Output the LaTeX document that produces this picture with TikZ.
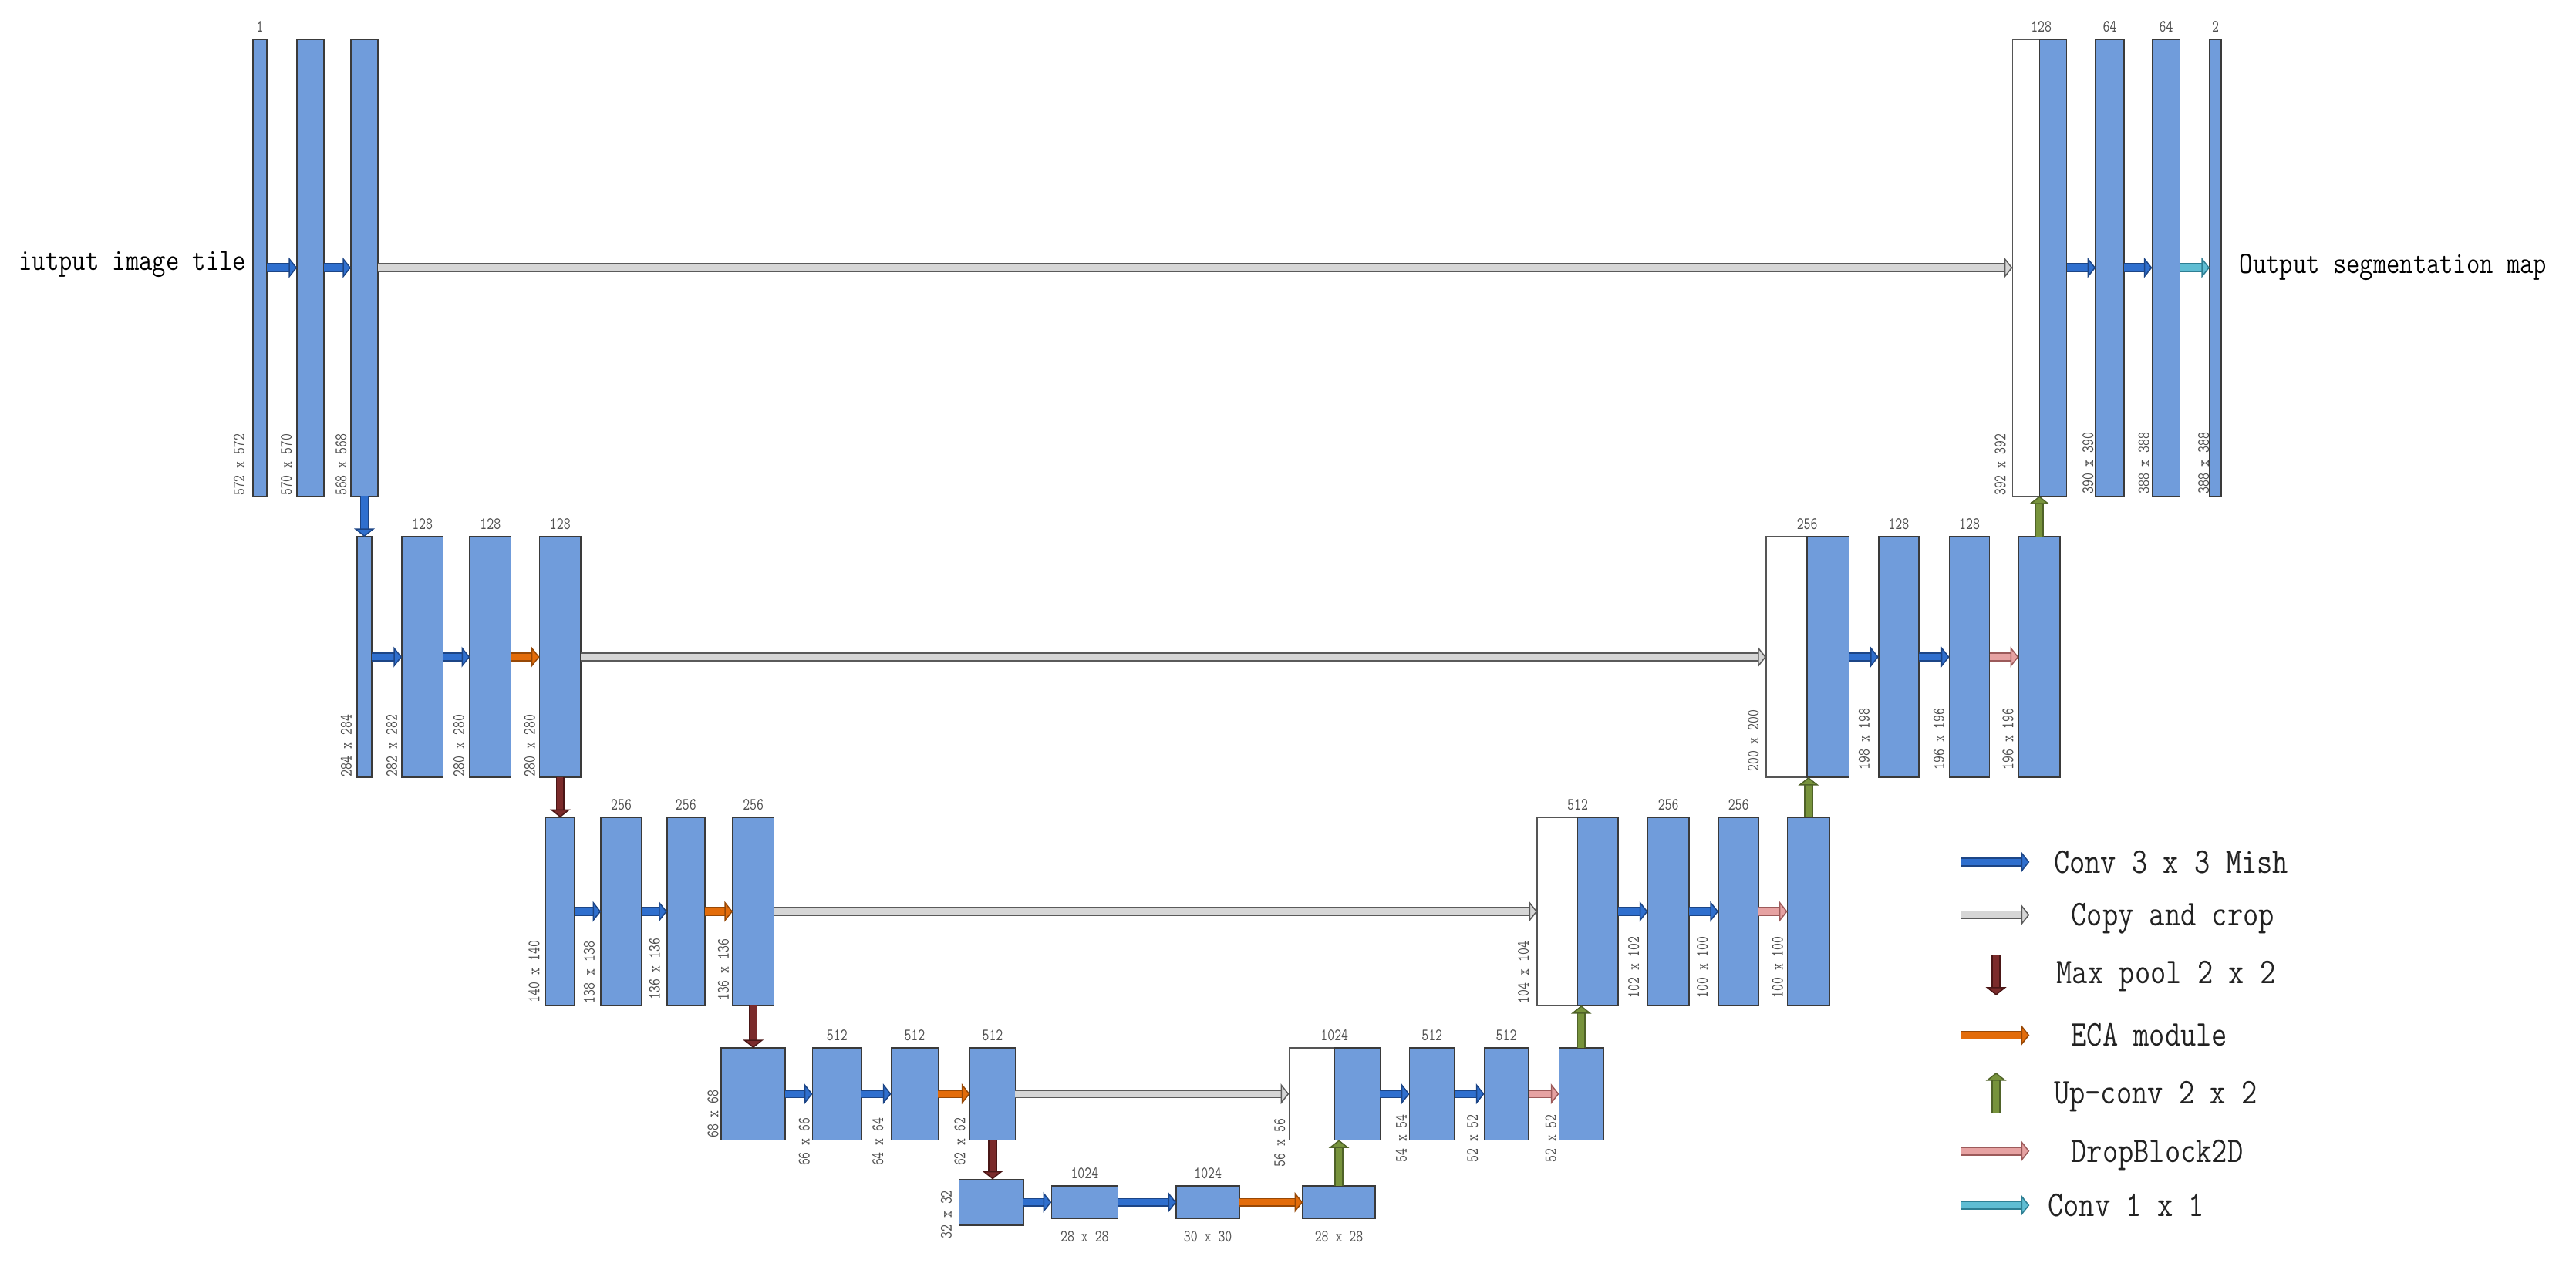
\documentclass[tikz,border=0pt]{standalone}
\usepackage{graphicx}
\usetikzlibrary{arrows.meta}
\definecolor{boxblue}{HTML}{709CDB}
\definecolor{boxline}{HTML}{3A3A3A}
\definecolor{wline}{HTML}{555555}
\definecolor{convF}{HTML}{2F6FCE}
\definecolor{convD}{HTML}{1C4586}
\definecolor{copyF}{HTML}{D6D6D6}
\definecolor{copyD}{HTML}{5A5A5A}
\definecolor{poolF}{HTML}{7B2B2B}
\definecolor{poolD}{HTML}{4A1616}
\definecolor{ecaF}{HTML}{E36C0A}
\definecolor{ecaD}{HTML}{974806}
\definecolor{upF}{HTML}{77933C}
\definecolor{upD}{HTML}{4F6228}
\definecolor{dropF}{HTML}{E6A2A2}
\definecolor{dropD}{HTML}{9C5A5A}
\definecolor{cF}{HTML}{5FBDD3}
\definecolor{cD}{HTML}{2E7F93}
\definecolor{lbl}{HTML}{505050}
\definecolor{legtext}{HTML}{222222}
\newcommand{\dimtxt}[1]{\scalebox{0.76}[1]{#1}}
\newcommand{\legtxt}[1]{\scalebox{0.84}[1]{#1}}
\newcommand{\iotxt}[1]{\scalebox{0.84}[1]{#1}}
\newcommand{\mkbox}[6][bx]{\node[#1, minimum width=#5pt, minimum height=#6pt] (#2) at (#3,#4) {};}
\tikzset{
  bx/.style={draw=boxline, fill=boxblue, line width=0.7pt, inner sep=0pt, outer sep=0pt, anchor=north west},
  wbx/.style={bx, draw=wline, fill=white},
  ch/.style={font=\fontsize{10.5}{12}\selectfont\ttfamily, text=lbl, inner sep=0pt, anchor=base},
  dm/.style={ch, rotate=90, anchor=west},
  leg/.style={font=\fontsize{22}{26}\selectfont\ttfamily, text=legtext, inner sep=0pt, anchor=base west},
  io/.style={font=\fontsize{18.8}{22}\selectfont\ttfamily, text=black, inner sep=0pt},
  barr/.style 2 args={draw=#1, line width=3.8pt,
    -{Triangle[length=5pt,width=12.5pt,line width=0.7pt,color=#2,fill=#1]},
    preaction={draw=#2, line width=5.4pt, arrows=-, shorten >=4.2pt}},
  conv/.style={barr={convF}{convD}},
  cpy/.style={barr={copyF}{copyD}},
  pool/.style={barr={poolF}{poolD}},
  eca/.style={barr={ecaF}{ecaD}},
  upc/.style={barr={upF}{upD}},
  drop/.style={barr={dropF}{dropD}},
  cone/.style={barr={cF}{cD}},
}
\begin{document}
\begin{tikzpicture}[x=1pt,y=-1pt]
\fill[white] (0,0) rectangle (1568,779);
% ---------- level 1
\mkbox{L1a}{154}{24}{8.5}{278}
\mkbox{L1b}{180.8}{24}{16.4}{278}
\mkbox{L1c}{213.6}{24}{16.4}{278}
\mkbox[wbx]{R1w}{1225}{24}{16.5}{278}
\mkbox{R1}{1241.5}{24}{16.5}{278}
\mkbox{R1b}{1275.6}{24}{17.2}{278}
\mkbox{R1c}{1310}{24}{17}{278}
\mkbox{R1d}{1345}{24}{7}{278}
% ---------- level 2
\mkbox{L2a}{217.4}{326.8}{8.9}{146.4}
\mkbox{L2b}{244.6}{326.8}{25}{146.4}
\mkbox{L2c}{286}{326.8}{25}{146.4}
\mkbox{L2d}{328.4}{326.8}{25.2}{146.4}
\mkbox[wbx]{R2w}{1075}{326.8}{25}{146.4}
\mkbox{R2}{1100}{326.8}{25.4}{146.4}
\mkbox{R2b}{1143.5}{326.8}{24.5}{146.4}
\mkbox{R2c}{1186.6}{326.8}{24.4}{146.4}
\mkbox{R2d}{1228.7}{326.8}{25.3}{146.4}
% ---------- level 3
\mkbox{L3a}{331.8}{497.7}{17.8}{114.5}
\mkbox{L3b}{365.8}{497.7}{24.8}{114.5}
\mkbox{L3c}{406}{497.7}{23}{114.5}
\mkbox{L3d}{446}{497.7}{25}{114.5}
\mkbox[wbx]{R3w}{935.7}{497.7}{24.6}{114.5}
\mkbox{R3}{960.3}{497.7}{24.7}{114.5}
\mkbox{R3b}{1003}{497.7}{25}{114.5}
\mkbox{R3c}{1046}{497.7}{24.5}{114.5}
\mkbox{R3d}{1088}{497.7}{25.6}{114.5}
% ---------- level 4
\mkbox{L4a}{439}{638}{39}{56}
\mkbox{L4b}{494.6}{638}{29.8}{56}
\mkbox{L4c}{542.5}{638}{28.5}{56}
\mkbox{L4d}{590.4}{638}{27.6}{56}
\mkbox[wbx]{R4w}{784.6}{638}{27.7}{56}
\mkbox{R4}{812.3}{638}{27.7}{56}
\mkbox{R4b}{858}{638}{27.3}{56}
\mkbox{R4c}{903.5}{638}{26.8}{56}
\mkbox{R4d}{949}{638}{27}{56}
% ---------- level 5
\mkbox{L5a}{583.8}{718}{39.2}{28}
\mkbox{L5b}{640}{722}{40.5}{20}
\mkbox{L5c}{716}{722}{38.5}{20}
\mkbox{L5d}{793}{722}{44}{20}
% ---------- horizontal arrows
\draw[conv] (L1a.east) -- (L1b.west);
\draw[conv] (L1b.east) -- (L1c.west);
\draw[cpy] (L1c.east) -- (R1w.west);
\draw[conv] (R1.east) -- (R1b.west);
\draw[conv] (R1b.east) -- (R1c.west);
\draw[cone] (R1c.east) -- (R1d.west);
\draw[conv] (L2a.east) -- (L2b.west);
\draw[conv] (L2b.east) -- (L2c.west);
\draw[eca] (L2c.east) -- (L2d.west);
\draw[cpy] (L2d.east) -- (R2w.west);
\draw[conv] (R2.east) -- (R2b.west);
\draw[conv] (R2b.east) -- (R2c.west);
\draw[drop] (R2c.east) -- (R2d.west);
\draw[conv] (L3a.east) -- (L3b.west);
\draw[conv] (L3b.east) -- (L3c.west);
\draw[eca] (L3c.east) -- (L3d.west);
\draw[cpy] (L3d.east) -- (R3w.west);
\draw[conv] (R3.east) -- (R3b.west);
\draw[conv] (R3b.east) -- (R3c.west);
\draw[drop] (R3c.east) -- (R3d.west);
\draw[conv] (L4a.east) -- (L4b.west);
\draw[conv] (L4b.east) -- (L4c.west);
\draw[eca] (L4c.east) -- (L4d.west);
\draw[cpy] (L4d.east) -- (R4w.west);
\draw[conv] (R4.east) -- (R4b.west);
\draw[conv] (R4b.east) -- (R4c.west);
\draw[drop] (R4c.east) -- (R4d.west);
\draw[conv] (L5a.east) -- (L5b.west);
\draw[conv] (L5b.east) -- (L5c.west);
\draw[eca] (L5c.east) -- (L5d.west);
% ---------- vertical arrows
\draw[conv] (L1c.south) -- (L1c.south |- L2a.north);
\draw[pool] (L2d.south) -- (L2d.south |- L3a.north);
\draw[pool] (L3d.south) -- (L3d.south |- L4a.north);
\draw[pool] (L4d.south) -- (L4d.south |- L5a.north);
\draw[upc] (L5d.north) -- (L5d.north |- R4.south);
\draw[upc] (R4d.north) -- (R4d.north |- R3.south);
\draw[upc] (R3d.north) -- (R3d.north |- R2.south);
\draw[upc] (R2d.north) -- (R2d.north |- R1.south);
% ---------- channel labels
\node[ch] (c1) at (158.25,19.5) {\dimtxt{1}};
\node[ch] (c2) at (1242.5,19.5) {\dimtxt{128}};
\node[ch] (c3) at (1284.2,19.5) {\dimtxt{64}};
\node[ch] (c4) at (1318.5,19.5) {\dimtxt{64}};
\node[ch] (c5) at (1348.5,19.5) {\dimtxt{2}};
\node[ch] (c6) at (257.1,322.3) {\dimtxt{128}};
\node[ch] (c7) at (298.5,322.3) {\dimtxt{128}};
\node[ch] (c8) at (341,322.3) {\dimtxt{128}};
\node[ch] (c9) at (1100,322.3) {\dimtxt{256}};
\node[ch] (c10) at (1155.75,322.3) {\dimtxt{128}};
\node[ch] (c11) at (1198.8,322.3) {\dimtxt{128}};
\node[ch] (c12) at (378.2,493.2) {\dimtxt{256}};
\node[ch] (c13) at (417.5,493.2) {\dimtxt{256}};
\node[ch] (c14) at (458.5,493.2) {\dimtxt{256}};
\node[ch] (c15) at (960.3,493.2) {\dimtxt{512}};
\node[ch] (c16) at (1015.5,493.2) {\dimtxt{256}};
\node[ch] (c17) at (1058.25,493.2) {\dimtxt{256}};
\node[ch] (c18) at (509.5,633.5) {\dimtxt{512}};
\node[ch] (c19) at (556.75,633.5) {\dimtxt{512}};
\node[ch] (c20) at (604.2,633.5) {\dimtxt{512}};
\node[ch] (c21) at (812.3,633.5) {\dimtxt{1024}};
\node[ch] (c22) at (871.65,633.5) {\dimtxt{512}};
\node[ch] (c23) at (916.9,633.5) {\dimtxt{512}};
\node[ch] (c24) at (660.25,717.5) {\dimtxt{1024}};
\node[ch] (c25) at (735.25,717.5) {\dimtxt{1024}};
\node[ch] (b1) at (660.25,756) {\dimtxt{28 x 28}};
\node[ch] (b2) at (735.25,756) {\dimtxt{30 x 30}};
\node[ch] (b3) at (815,756) {\dimtxt{28 x 28}};
% ---------- size labels (rotated)
\node[dm] (d1) at (145.5,302) {\dimtxt{572 x 572}};
\node[dm] (d2) at (174.3,302) {\dimtxt{570 x 570}};
\node[dm] (d3) at (207.6,302) {\dimtxt{568 x 568}};
\node[dm] (d4) at (1217.5,302) {\dimtxt{392 x 392}};
\node[dm] (d5) at (1271,301) {\dimtxt{390 x 390}};
\node[dm] (d6) at (1305,301) {\dimtxt{388 x 388}};
\node[dm] (d7) at (1341.4,301) {\dimtxt{388 x 388}};
\node[dm] (d8) at (210.8,473) {\dimtxt{284 x 284}};
\node[dm] (d9) at (238.5,473) {\dimtxt{282 x 282}};
\node[dm] (d10) at (279.3,473) {\dimtxt{280 x 280}};
\node[dm] (d11) at (322.4,473) {\dimtxt{280 x 280}};
\node[dm] (d12) at (1067.2,470) {\dimtxt{200 x 200}};
\node[dm] (d13) at (1134.7,469) {\dimtxt{198 x 198}};
\node[dm] (d14) at (1180.2,469) {\dimtxt{196 x 196}};
\node[dm] (d15) at (1222.3,469) {\dimtxt{196 x 196}};
\node[dm] (d16) at (325.1,610.5) {\dimtxt{140 x 140}};
\node[dm] (d17) at (358.7,611) {\dimtxt{138 x 138}};
\node[dm] (d18) at (398.5,609) {\dimtxt{136 x 136}};
\node[dm] (d19) at (440.4,609.5) {\dimtxt{136 x 136}};
\node[dm] (d20) at (927.3,611) {\dimtxt{104 x 104}};
\node[dm] (d21) at (994.4,608) {\dimtxt{102 x 102}};
\node[dm] (d22) at (1036.2,608) {\dimtxt{100 x 100}};
\node[dm] (d23) at (1082,608) {\dimtxt{100 x 100}};
\node[dm] (d24) at (434,693) {\dimtxt{68 x 68}};
\node[dm] (d25) at (489.5,710) {\dimtxt{66 x 66}};
\node[dm] (d26) at (534.4,710) {\dimtxt{64 x 64}};
\node[dm] (d27) at (584.2,710) {\dimtxt{62 x 62}};
\node[dm] (d28) at (779,710.5) {\dimtxt{56 x 56}};
\node[dm] (d29) at (853,708) {\dimtxt{54 x 54}};
\node[dm] (d30) at (896.3,708) {\dimtxt{52 x 52}};
\node[dm] (d31) at (944,708) {\dimtxt{52 x 52}};
\node[dm] (d32) at (576,754.4) {\dimtxt{32 x 32}};
% ---------- input / output text
\node[io, anchor=base east] (tin) at (150,164.5) {\iotxt{iutput image tile}};
\node[io, anchor=base west] (tout) at (1363,166.5) {\iotxt{Output segmentation map}};
% ---------- legend
\coordinate (g1a) at (1194,524.8); \coordinate (g1b) at (1235.3,524.8);
\coordinate (g2a) at (1194,557); \coordinate (g2b) at (1235.3,557);
\coordinate (g3a) at (1215,581.7); \coordinate (g3b) at (1215,606);
\coordinate (g4a) at (1194,630.3); \coordinate (g4b) at (1235.3,630.3);
\coordinate (g5a) at (1215,678); \coordinate (g5b) at (1215,653);
\coordinate (g6a) at (1194,700.8); \coordinate (g6b) at (1235.3,700.8);
\coordinate (g7a) at (1194,733.8); \coordinate (g7b) at (1235.3,733.8);
\draw[conv] (g1a) -- (g1b);
\draw[cpy] (g2a) -- (g2b);
\draw[pool] (g3a) -- (g3b);
\draw[eca] (g4a) -- (g4b);
\draw[upc] (g5a) -- (g5b);
\draw[drop] (g6a) -- (g6b);
\draw[cone] (g7a) -- (g7b);
\node[leg] (l1) at (1250,531.5) {\legtxt{Conv 3 x 3 Mish}};
\node[leg] (l2) at (1260.5,563.7) {\legtxt{Copy and crop}};
\node[leg] (l3) at (1251.7,598.7) {\legtxt{Max pool 2 x 2}};
\node[leg] (l4) at (1260.5,637) {\legtxt{ECA module}};
\node[leg] (l5) at (1250,672.2) {\legtxt{Up-conv 2 x 2}};
\node[leg] (l6) at (1260.5,707.5) {\legtxt{DropBlock2D}};
\node[leg] (l7) at (1246.4,740.5) {\legtxt{Conv 1 x 1}};
\end{tikzpicture}
\end{document}
